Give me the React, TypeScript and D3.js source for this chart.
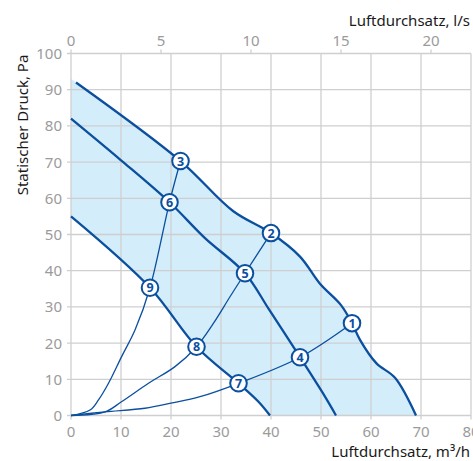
import React, { useEffect, useRef } from "react";
import * as d3 from "d3";

// fan curves, [m3/h, Pa]
const curveHigh: [number, number][] = [
  [1, 92], [21.9, 70.3], [32.4, 56.5], [40, 50.4], [45.8, 43.9], [49.8, 36.4],
  [54, 30.5], [56.2, 25.5], [57.8, 20.9], [61.1, 14.4], [64.8, 10.4], [69, 0],
];
const curveMid: [number, number][] = [
  [0, 82], [10, 70.5], [19.7, 58.9], [26.8, 49], [34.8, 39.3], [39.6, 29.3],
  [45.8, 16.1], [50.8, 5.2], [53, 0],
];
const curveLow: [number, number][] = [
  [0, 55], [15.8, 35.3], [25.1, 19], [33.5, 8.9], [37.5, 3.8], [39.8, 0],
];
// system curves
const system1: [number, number][] = [
  [0, 0], [3.8, 1.5], [5.5, 4.3], [7.5, 8.9], [10.1, 16.2], [12.8, 23.6],
  [15.8, 35.3], [19.7, 58.9], [21.9, 70.3],
];
const system2: [number, number][] = [
  [0, 0], [6.8, 1], [10.1, 3.8], [15.5, 8.9], [20.8, 13.5], [25.1, 19],
  [28.5, 25.5], [31.8, 32.8], [34.8, 39.3], [40, 50.4],
];
const system3: [number, number][] = [
  [0, 0], [6.8, 1], [14.8, 2], [20, 3.4], [25.8, 5.2], [33.5, 8.9],
  [45.8, 16.1], [56.2, 25.5],
];
// operating points 1..9
const markerLabels = ["1", "2", "3", "4", "5", "6", "7", "8", "9"];
const markerPoints: [number, number][] = [
  [56.2, 25.5], [40, 50.4], [21.9, 70.3], [45.8, 16.1], [34.8, 39.3],
  [19.7, 58.9], [33.5, 8.9], [25.1, 19], [15.8, 35.3],
];
const flowTicks = [0, 10, 20, 30, 40, 50, 60, 70, 80];
const pressureTicks = [0, 10, 20, 30, 40, 50, 60, 70, 80, 90, 100];
const litreTicks = [0, 5, 10, 15, 20];

const W = 473;
const H = 461;
const BLUE = "#0b4f9f";
const GRID = "#cfcfcf";
const TICK_TEXT = "#9b9b9b";
const FONT = "Noto Sans, sans-serif";

const App = () => {
  const ref = useRef<SVGSVGElement>(null);

  useEffect(() => {
    const svg = d3.select(ref.current);
    svg.selectAll("*").remove();

    const x = d3.scaleLinear().domain([0, 80]).range([71, 471]);
    const y = d3.scaleLinear().domain([0, 100]).range([415.5, 53.5]);
    const xl = d3.scaleLinear().domain([0, 80 / 3.6]).range([71, 471]);
    const curve = d3.curveCatmullRom.alpha(0.5);

    // blue operating area between high and low curve
    const area = d3.area<[number, number]>()
      .x((d) => x(d[0]))
      .y0(y(0))
      .y1((d) => y(d[1]))
      .curve(curve);
    svg.append("path")
      .attr("d", (area([[0, 93], ...curveHigh]) || "") + (area(curveLow) || ""))
      .attr("fill", "#d3edfa")
      .attr("fill-rule", "evenodd");

    // grid
    const g = svg.append("g");
    g.selectAll(".vx").data(flowTicks).enter().append("line")
      .attr("x1", (d) => x(d)).attr("x2", (d) => x(d))
      .attr("y1", y(100)).attr("y2", y(0) + 4)
      .attr("stroke", GRID).attr("stroke-width", 1.3);
    g.selectAll(".hy").data(pressureTicks).enter().append("line")
      .attr("x1", x(0) - 4).attr("x2", x(80))
      .attr("y1", (d) => y(d)).attr("y2", (d) => y(d))
      .attr("stroke", GRID).attr("stroke-width", 1.3);
    g.selectAll(".tl").data(litreTicks).enter().append("line")
      .attr("x1", (d) => xl(d)).attr("x2", (d) => xl(d))
      .attr("y1", y(100) - 4).attr("y2", y(100))
      .attr("stroke", GRID).attr("stroke-width", 1.3);

    // tick labels
    svg.selectAll(".xt").data(flowTicks).enter().append("text")
      .attr("x", (d) => x(d)).attr("y", 437)
      .attr("text-anchor", "middle")
      .attr("font-family", FONT).attr("font-size", 15).attr("fill", TICK_TEXT)
      .text((d) => d);
    svg.selectAll(".yt").data(pressureTicks).enter().append("text")
      .attr("x", 62).attr("y", (d) => y(d) + 5.5)
      .attr("text-anchor", "end")
      .attr("font-family", FONT).attr("font-size", 15).attr("fill", TICK_TEXT)
      .text((d) => d);
    svg.selectAll(".lt").data(litreTicks).enter().append("text")
      .attr("x", (d) => xl(d)).attr("y", 46)
      .attr("text-anchor", "middle")
      .attr("font-family", FONT).attr("font-size", 15).attr("fill", TICK_TEXT)
      .text((d) => d);

    // axis titles
    svg.append("text")
      .attr("x", 470).attr("y", 26).attr("text-anchor", "end")
      .attr("font-family", FONT).attr("font-size", 15).attr("fill", "#1a1a1a")
      .text("Luftdurchsatz, l/s");
    svg.append("text")
      .attr("x", 470).attr("y", 457).attr("text-anchor", "end")
      .attr("font-family", FONT).attr("font-size", 15).attr("fill", "#1a1a1a")
      .text("Luftdurchsatz, m³/h");
    svg.append("text")
      .attr("transform", "translate(28,125) rotate(-90)")
      .attr("text-anchor", "middle")
      .attr("font-family", FONT).attr("font-size", 15).attr("fill", "#1a1a1a")
      .text("Statischer Druck, Pa");

    // curves
    const line = d3.line<[number, number]>()
      .x((d) => x(d[0]))
      .y((d) => y(d[1]))
      .curve(curve);
    [system1, system2, system3].forEach((s) => {
      svg.append("path").attr("d", line(s)).attr("fill", "none")
        .attr("stroke", BLUE).attr("stroke-width", 1.3);
    });
    [curveHigh, curveMid, curveLow].forEach((c) => {
      svg.append("path").attr("d", line(c)).attr("fill", "none")
        .attr("stroke", BLUE).attr("stroke-width", 2.3);
    });

    // markers
    const m = svg.selectAll(".mk").data(markerPoints).enter().append("g")
      .attr("transform", (d) => `translate(${x(d[0])},${y(d[1])})`);
    m.append("circle").attr("r", 8.3).attr("fill", "#fff")
      .attr("stroke", BLUE).attr("stroke-width", 2);
    m.append("text")
      .attr("y", 4.5).attr("text-anchor", "middle")
      .attr("font-family", FONT).attr("font-size", 12.5).attr("font-weight", "bold")
      .attr("fill", BLUE)
      .text((d, i) => markerLabels[i]);
  }, []);

  return (
    <svg
      ref={ref}
      width={W}
      height={H}
      style={{ position: "absolute", left: 0, top: 0, display: "block", background: "#fff" }}
    />
  );
};

export default App;
